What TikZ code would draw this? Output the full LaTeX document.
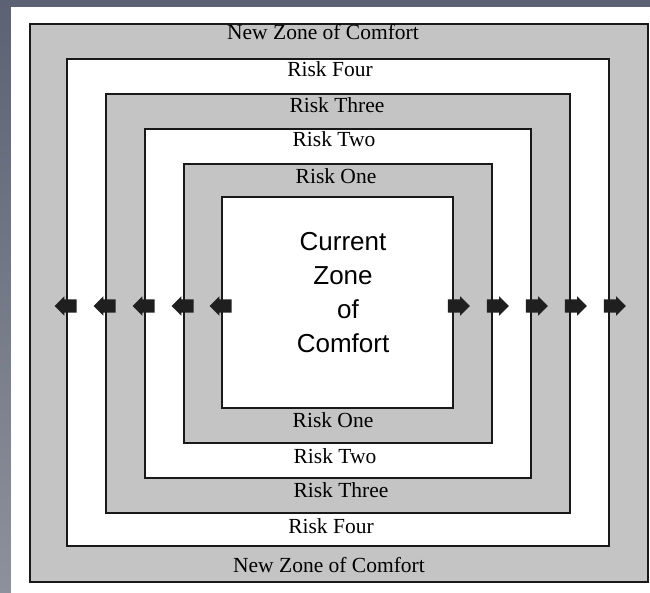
\documentclass[tikz,border=0pt]{standalone}
\usepackage{fontspec}
\setmainfont{Liberation Serif}
\newfontfamily\comfortfont{Liberation Sans}
\usetikzlibrary{shapes.arrows}
\definecolor{slate}{HTML}{5C6273}
\definecolor{slatelow}{HTML}{8D919B}
\definecolor{bandgray}{HTML}{C4C4C4}
\tikzset{
  zgray/.style={draw=black!90,fill=bandgray,line width=1.2pt,inner sep=0pt},
  zwhite/.style={draw=black!90,fill=white,line width=1.2pt,inner sep=0pt},
  zlabel/.style={anchor=base,inner sep=0pt,font=\fontsize{21.5}{26}\selectfont},
  zright/.style={single arrow,fill=black!88,inner xsep=0pt,inner ysep=6.5pt,
    single arrow head extend=3pt,minimum height=22pt},
  zleft/.style={zright,shape border rotate=180}
}
\begin{document}
\begin{tikzpicture}[x=1pt,y=-1pt]
  \useasboundingbox (0,0) rectangle (650,593);
  \shade[top color=slate,bottom color=slatelow] (0,0) rectangle (650,593);
  \fill[white] (11,7) rectangle (650,593);
  % nested zones
  \node[zgray,minimum width=618pt,minimum height=558pt] (newzone) at (339,303) {};
  \node[zwhite,minimum width=542pt,minimum height=487pt] (riskfour) at (338,302.5) {};
  \node[zgray,minimum width=464pt,minimum height=419pt] (riskthree) at (338,303.5) {};
  \node[zwhite,minimum width=386pt,minimum height=349pt] (risktwo) at (338,303.5) {};
  \node[zgray,minimum width=308pt,minimum height=279pt] (riskone) at (338,303.5) {};
  \node[zwhite,minimum width=231pt,minimum height=211pt] (current) at (337.5,302.5) {};
  % band labels
  \node[zlabel] (newzonetop) at (323,40) {New Zone of Comfort};
  \node[zlabel] (riskfourtop) at (330,77) {Risk Four};
  \node[zlabel] (riskthreetop) at (337,113) {Risk Three};
  \node[zlabel] (risktwotop) at (334,147) {Risk Two};
  \node[zlabel] (riskonetop) at (336,184) {Risk One};
  \node[zlabel] (riskonebot) at (333,427) {Risk One};
  \node[zlabel] (risktwobot) at (335,463) {Risk Two};
  \node[zlabel] (riskthreebot) at (341,497) {Risk Three};
  \node[zlabel] (riskfourbot) at (331,533) {Risk Four};
  \node[zlabel] (newzonebot) at (329,572) {New Zone of Comfort};
  \node[align=center,inner sep=0pt,font=\comfortfont\fontsize{26}{34}\selectfont]
    (currenttext) at (343,293) {Current\\Zone\\\hspace*{10pt}of\\Comfort};
  % arrows on the borders
  \node[zleft] (outl4) at (69,306) {};
  \node[zleft] (outl3) at (108,306) {};
  \node[zleft] (outl2) at (147,306) {};
  \node[zleft] (outl1) at (186,306) {};
  \node[zleft] (outl0) at (224,306) {};
  \node[zright] (outr0) at (455.5,306) {};
  \node[zright] (outr1) at (494.5,306) {};
  \node[zright] (outr2) at (533.5,306) {};
  \node[zright] (outr3) at (572.5,306) {};
  \node[zright] (outr4) at (611.5,306) {};
\end{tikzpicture}
\end{document}
